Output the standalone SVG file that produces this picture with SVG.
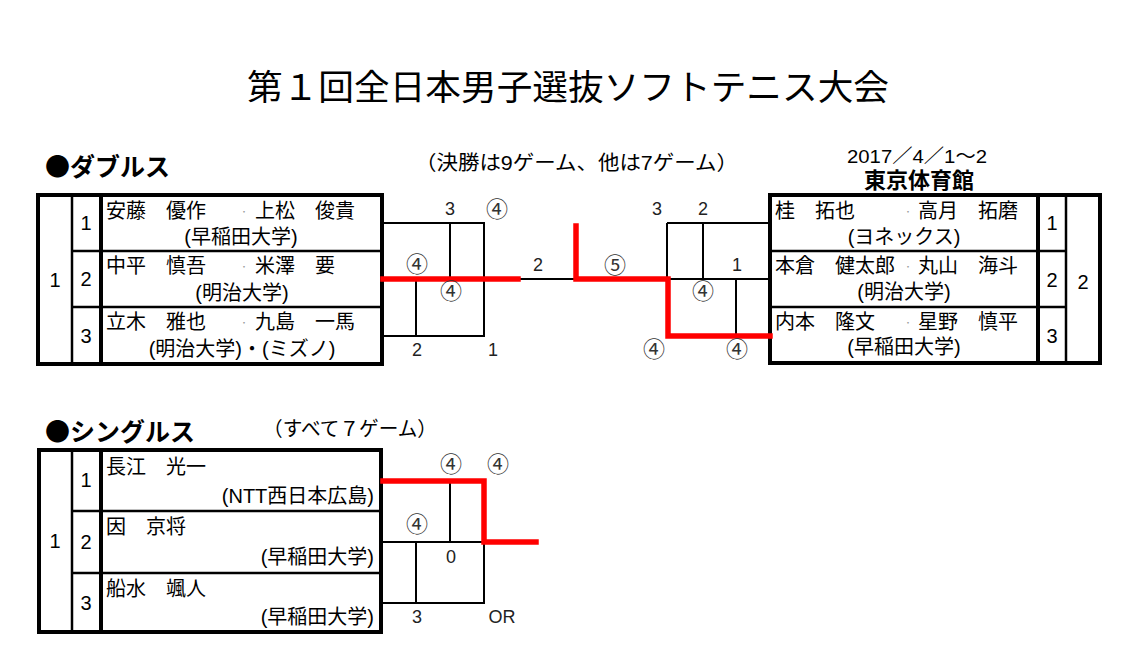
<svg xmlns="http://www.w3.org/2000/svg" width="1127" height="661" viewBox="0 0 1127 661">
<style>
text{font-family:"Liberation Sans","Noto Sans CJK JP",sans-serif;fill:#000}
.ttl{font-size:35px}
.hd{font-size:25px;font-weight:bold;font-family:"Noto Sans CJK JP",sans-serif}
.note{font-size:20px}
.nm{font-size:20px}
.num{font-size:20px;text-anchor:middle}
.sc{font-size:18px;text-anchor:middle;fill:#222}
.cd{font-size:22px;text-anchor:middle;fill:#333}
.c{text-anchor:middle}
.r{text-anchor:end}
.dot{font-size:8px;fill:#999}
.box{fill:none;stroke:#000;stroke-width:4}
.thin{stroke:#000;stroke-width:2.5;fill:none}
.thick{stroke:#000;stroke-width:4;fill:none}
.ln{stroke:#000;stroke-width:2;fill:none}
.win{stroke:#f00;stroke-width:5.5;fill:none;stroke-linecap:square}
</style>
<rect width="1127" height="661" fill="#fff"/>

<g id="title"><text class="ttl" x="568" y="100" text-anchor="middle" textLength="642" lengthAdjust="spacingAndGlyphs">第１回全日本男子選抜ソフトテニス大会</text></g>

<g id="doubles-header"><text class="hd" x="45" y="176">●ダブルス</text></g>
<g id="doubles-note"><text class="note" x="415" y="170" textLength="323" lengthAdjust="spacingAndGlyphs">（決勝は9ゲーム、他は7ゲーム）</text></g>
<g id="date"><text x="917" y="163" font-size="19" text-anchor="middle" textLength="140" lengthAdjust="spacingAndGlyphs">2017／4／1～2</text></g>
<g id="venue"><text x="919" y="188" font-size="22" font-weight="bold" text-anchor="middle">東京体育館</text></g>

<g id="doubles-left">
<rect class="box" x="38" y="195" width="344" height="169"/>
<line class="thin" x1="72" y1="195" x2="72" y2="364"/>
<line class="thick" x1="101" y1="195" x2="101" y2="364"/>
<line class="thin" x1="72" y1="251" x2="382" y2="251"/>
<line class="thin" x1="72" y1="307" x2="382" y2="307"/>
<text class="num" x="55" y="287">1</text>
<g id="dl-team1">
<text class="num" x="86" y="230">1</text>
<text class="nm" x="106" y="218">安藤　優作</text><text class="dot" x="240" y="215">・</text><text class="nm" x="255" y="218">上松　俊貴</text>
<text class="nm c" x="241" y="244">(早稲田大学)</text>
</g>
<g id="dl-team2">
<text class="num" x="86" y="286">2</text>
<text class="nm" x="106" y="273">中平　慎吾</text><text class="dot" x="240" y="270">・</text><text class="nm" x="255" y="273">米澤　要</text>
<text class="nm c" x="242" y="300">(明治大学)</text>
</g>
<g id="dl-team3">
<text class="num" x="86" y="343">3</text>
<text class="nm" x="106" y="329">立木　雅也</text><text class="dot" x="240" y="326">・</text><text class="nm" x="255" y="329">九島　一馬</text>
<text class="nm c" x="242" y="356">(明治大学)・(ミズノ)</text>
</g>
</g>

<g id="doubles-right">
<rect class="box" x="770" y="195" width="330" height="168"/>
<line class="thick" x1="1038" y1="195" x2="1038" y2="363"/>
<line class="thin" x1="1066" y1="195" x2="1066" y2="363"/>
<line class="thin" x1="770" y1="251" x2="1066" y2="251"/>
<line class="thin" x1="770" y1="307" x2="1066" y2="307"/>
<text class="num" x="1083" y="289">2</text>
<g id="dr-team1">
<text class="num" x="1052" y="230">1</text>
<text class="nm" x="775" y="218">桂　拓也</text><text class="dot" x="904" y="215">・</text><text class="nm" x="918" y="218">高月　拓磨</text>
<text class="nm c" x="904" y="244">(ヨネックス)</text>
</g>
<g id="dr-team2">
<text class="num" x="1052" y="287">2</text>
<text class="nm" x="775" y="273">本倉　健太郎</text><text class="dot" x="904" y="270">・</text><text class="nm" x="918" y="273">丸山　海斗</text>
<text class="nm c" x="904" y="299">(明治大学)</text>
</g>
<g id="dr-team3">
<text class="num" x="1052" y="343">3</text>
<text class="nm" x="775" y="329">内本　隆文</text><text class="dot" x="904" y="326">・</text><text class="nm" x="918" y="329">星野　慎平</text>
<text class="nm c" x="904" y="354">(早稲田大学)</text>
</g>
</g>

<g id="singles-header"><text class="hd" x="45" y="441">●シングルス</text></g>
<g id="singles-note"><text class="note" x="263" y="436" textLength="174" lengthAdjust="spacingAndGlyphs">（すべて７ゲーム）</text></g>

<g id="singles-table">
<rect class="box" x="39" y="450" width="342" height="182"/>
<line class="thin" x1="72" y1="450" x2="72" y2="632"/>
<line class="thick" x1="101" y1="450" x2="101" y2="632"/>
<line class="thin" x1="72" y1="511" x2="381" y2="511"/>
<line class="thin" x1="72" y1="573" x2="381" y2="573"/>
<text class="num" x="55" y="548">1</text>
<g id="s-player1">
<text class="num" x="86" y="487">1</text>
<text class="nm" x="106" y="474">長江　光一</text>
<text class="nm r" x="374" y="503">(NTT西日本広島)</text>
</g>
<g id="s-player2">
<text class="num" x="86" y="549">2</text>
<text class="nm" x="106" y="534">因　京将</text>
<text class="nm r" x="374" y="564">(早稲田大学)</text>
</g>
<g id="s-player3">
<text class="num" x="86" y="610">3</text>
<text class="nm" x="106" y="596">船水　颯人</text>
<text class="nm r" x="374" y="624">(早稲田大学)</text>
</g>
</g>

<g id="connectors">
<path class="ln" d="M383,223 H485 M450,223 V279 M484,223 V336 M518,279 H576 M416,279 V336 M383,336 H485"/>
<path class="win" d="M383,279 H518"/>
<path class="ln" d="M667,223 H770 M667,279 H770 M703,223 V279 M667,223 V279 M736,279 V336"/>
<path class="win" d="M576,226 V279 H668 V336 H770"/>
<path class="ln" d="M450,481 V542 M383,542 H484 M416,542 V603 M383,603 H485 M484,542 V603"/>
<path class="win" d="M383,481 H484 V542 H536"/>
</g>

<g id="scores">
<text class="sc" x="450" y="215">3</text>
<text class="cd" x="497" y="217">④</text>
<text class="cd" x="417" y="272">④</text>
<text class="cd" x="451" y="299">④</text>
<text class="sc" x="417" y="356">2</text>
<text class="sc" x="493" y="356">1</text>
<text class="sc" x="538" y="271">2</text>
<text class="cd" x="615" y="273">⑤</text>
<text class="sc" x="657" y="215">3</text>
<text class="sc" x="703" y="215">2</text>
<text class="sc" x="737" y="271">1</text>
<text class="cd" x="703" y="299">④</text>
<text class="cd" x="654" y="357">④</text>
<text class="cd" x="737" y="357">④</text>
<text class="cd" x="451" y="472">④</text>
<text class="cd" x="498" y="472">④</text>
<text class="cd" x="417" y="532">④</text>
<text class="sc" x="451" y="563">0</text>
<text class="sc" x="417" y="623">3</text>
<text class="sc" x="502" y="623">OR</text>
</g>
</svg>
